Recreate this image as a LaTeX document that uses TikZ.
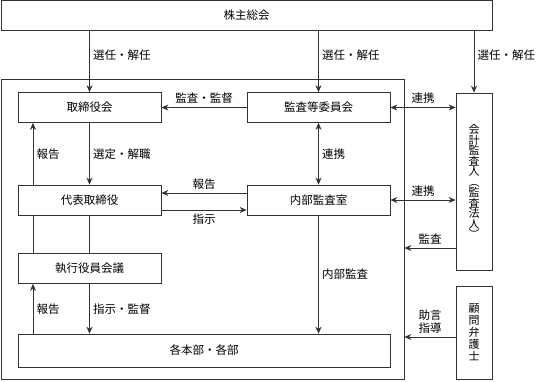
\documentclass[tikz,border=0pt]{standalone}
\usepackage{fontspec}
\newfontfamily\jpfont{Noto Sans CJK JP}
\usetikzlibrary{arrows.meta, calc, positioning}

\tikzset{
  box/.style={draw=black!80, line width=0.7pt, minimum height=30pt, inner sep=0pt},
  tate/.style={align=center, font=\jpfont\fontsize{11}{10.5}\selectfont},
}

\begin{document}
\begin{tikzpicture}[>={Stealth[length=7pt, width=6pt]}, x=1pt, y=-1pt,
    line width=0.7pt, draw=black!80, font=\jpfont\fontsize{11.5}{13}\selectfont]
    \useasboundingbox (0,0) rectangle (540,381);

    % 株主総会と会社の枠
    \node[box, minimum width=491pt] (kabu) at (246.5,15.5) {株主総会};
    \node[box, minimum width=403pt, minimum height=300pt] (kaisha) at (202.5,229) {};

    % 社内の機関
    \node[box, minimum width=143pt] (tor) at (89.5,107.5) {取締役会};
    \node[box, minimum width=143pt] (kansa) at (318.5,107.5) {監査等委員会};
    \node[box, minimum width=143pt] (dai) at (89.5,200) {代表取締役};
    \node[box, minimum width=143pt] (naibu) at (318.5,200) {内部監査室};
    \node[box, minimum width=143pt] (shikko) at (89.5,268.5) {執行役員会議};
    \node[box, minimum width=372pt, minimum height=33pt] (kaku) at (204,350.5) {各本部・各部};

    % 社外
    \node[box, tate, minimum width=36pt, minimum height=177pt] (kai) at (474,181.5)
        {会\\計\\監\\査\\人\\︵\\監\\査\\法\\人\\︶};
    \node[box, tate, font=\jpfont\fontsize{11}{12}\selectfont, minimum width=36pt, minimum height=93pt] (komon) at (474,332.5)
        {顧\\問\\弁\\護\\士};

    % 選任・解任
    \draw[->] (kabu.south -| tor.north) -- node[right, pos=0.4] {選任・解任} (tor.north);
    \draw[->] (kabu.south -| kansa.north) -- node[right, pos=0.4] {選任・解任} (kansa.north);
    \draw[->] (kabu.south -| kai.north) -- node[right, pos=0.4] {選任・解任} (kai.north);

    % 上段
    \draw[->] (kansa.west) -- node[above] {監査・監督} (tor.east);
    \draw[<->] (kansa.east) -- node[above] {連携} (kansa.east -| kai.west);
    \draw[->] (tor.south) -- node[right] {選定・解職} (dai.north);
    \draw[->] ([xshift=-56.5pt]dai.north) -- node[right] {報告} ([xshift=-56.5pt]tor.south);
    \draw[<->] (kansa.south) -- node[right] {連携} (naibu.north);

    % 中段
    \draw[->] ([yshift=7pt]naibu.west) -- node[above] {報告} ([yshift=7pt]dai.east);
    \draw[->] ([yshift=-10pt]dai.east) -- node[below] {指示} ([yshift=-10pt]naibu.west);
    \draw[<->] (naibu.east) -- node[above] {連携} (naibu.east -| kai.west);
    \draw[->] ([yshift=-66.5pt]kai.west) coordinate (k1) -- node[above] {監査} (k1 -| kaisha.east);
    \draw (dai.south) -- (shikko.north);
    \draw ([xshift=-56.5pt]dai.south) -- ([xshift=-56.5pt]shikko.north);

    % 下段
    \draw[->] (naibu.south) -- node[right] {内部監査} (naibu.south |- kaku.north);
    \draw[->] (shikko.south) -- node[right] {指示・監督} (shikko.south |- kaku.north);
    \draw[->] ([xshift=-56.5pt]shikko.south |- kaku.north) -- node[right] {報告} ([xshift=-56.5pt]shikko.south);
    \draw[->] ([yshift=-4.5pt]komon.west) coordinate (k2) -- node[above, align=center] {助言\\指導} (k2 -| kaisha.east);
\end{tikzpicture}
\end{document}
